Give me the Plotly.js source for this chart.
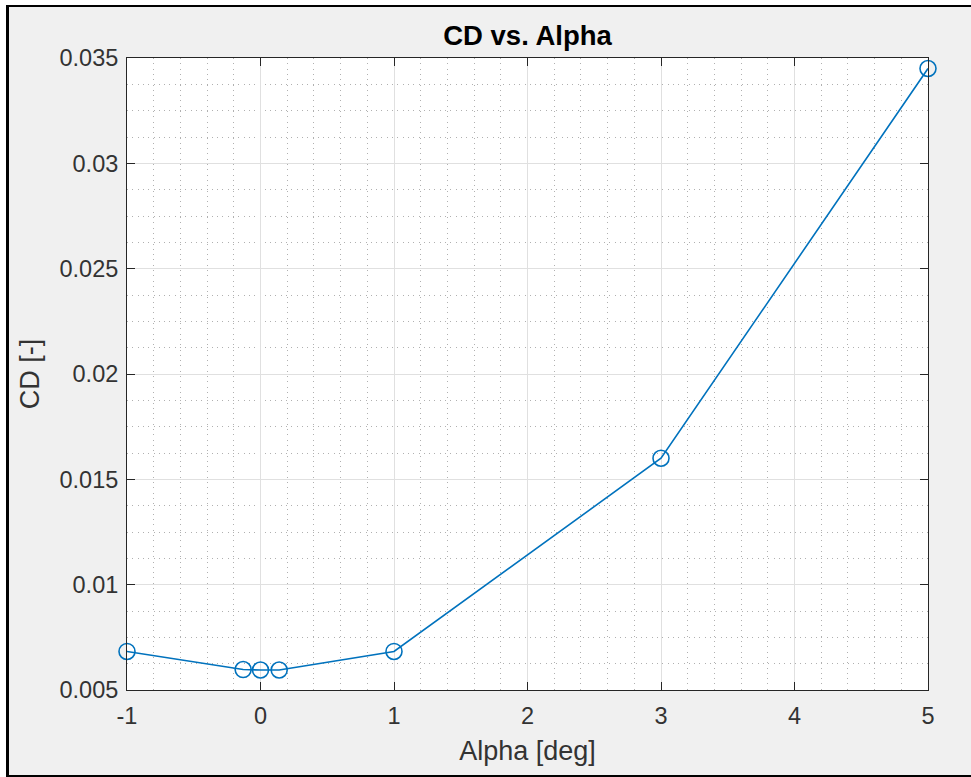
<!DOCTYPE html>
<html>
<head>
<meta charset="utf-8">
<script src="https://cdn.plot.ly/plotly-3.0.1.min.js"></script>
<style>
html,body{margin:0;padding:0;background:#ffffff;width:971px;height:777px;overflow:hidden;}
#frame{position:absolute;left:6px;top:5px;width:990px;height:768px;background:#f0f0f0;border-left:3px solid #000;border-top:2px solid #000;border-bottom:2px solid #000;}
#chart{position:absolute;left:0;top:0;width:971px;height:777px;}
</style>
</head>
<body>
<div id="frame"></div>
<div id="chart"></div>
<script>
// Data
const alpha = [-1, -0.13, 0, 0.14, 1, 3, 5];
const cd = [0.00683, 0.00597, 0.00595, 0.00595, 0.00683, 0.0160, 0.0345];

const xTickVals = [-1, 0, 1, 2, 3, 4, 5];
const xTickText = ['-1', '0', '1', '2', '3', '4', '5'];
const yTickVals = [0.005, 0.01, 0.015, 0.02, 0.025, 0.03, 0.035];
const yTickText = ['0.005', '0.01', '0.015', '0.02', '0.025', '0.03', '0.035'];

const FONT = 'Liberation Sans, Arial, Helvetica, sans-serif';
const AX = '#262626';

const trace = {
  x: alpha,
  y: cd,
  type: 'scatter',
  mode: 'lines+markers',
  line: {color: '#0072BD', width: 1.6},
  marker: {symbol: 'circle-open', size: 16, color: '#0072BD', line: {width: 1.6, color: '#0072BD'}},
  cliponaxis: false,
  hoverinfo: 'x+y'
};

const commonAxis = {
  showline: true, linecolor: AX, linewidth: 1, mirror: 'ticks',
  ticks: 'inside', ticklen: 8, tickwidth: 1, tickcolor: AX,
  showgrid: true, gridcolor: '#e0e0e0', gridwidth: 1,
  zeroline: false,
  tickfont: {family: FONT, size: 23.5, color: '#333333'},
  automargin: false,
  tickmode: 'array'
};

const MINOR_DASH = '1px,4.3px';

const layout = {
  width: 971, height: 777,
  margin: {l: 127, r: 43, t: 58, b: 87, pad: 0},
  paper_bgcolor: 'rgba(0,0,0,0)',
  plot_bgcolor: '#ffffff',
  showlegend: false,
  title: {
    text: '<b>CD vs. Alpha</b>',
    font: {family: FONT, size: 27.5, color: '#000000'},
    x: 0.5, xref: 'paper', xanchor: 'center',
    y: 1 - 35/777, yref: 'container', yanchor: 'middle'
  },
  xaxis: Object.assign({}, commonAxis, {
    range: [-1, 5],
    tickvals: xTickVals, ticktext: xTickText,
    ticklabelstandoff: 5,
    minor: {dtick: 0.2, tick0: -1, showgrid: true, griddash: MINOR_DASH, gridcolor: '#b0b0b0', gridwidth: 1, ticks: ''},
    title: {text: 'Alpha [deg]', font: {family: FONT, size: 27, color: '#333333'}, standoff: 12}
  }),
  yaxis: Object.assign({}, commonAxis, {
    range: [0.005, 0.035],
    tickvals: yTickVals, ticktext: yTickText,
    ticklabelstandoff: 3,
    minor: {dtick: 0.00125, tick0: 0.005, showgrid: true, griddash: MINOR_DASH, gridcolor: '#b0b0b0', gridwidth: 1, ticks: ''},
    title: {text: 'CD [-]', font: {family: FONT, size: 27, color: '#333333'}, standoff: 12}
  })
};

Plotly.newPlot('chart', [trace], layout, {displayModeBar: false, staticPlot: true});
</script>
</body>
</html>
